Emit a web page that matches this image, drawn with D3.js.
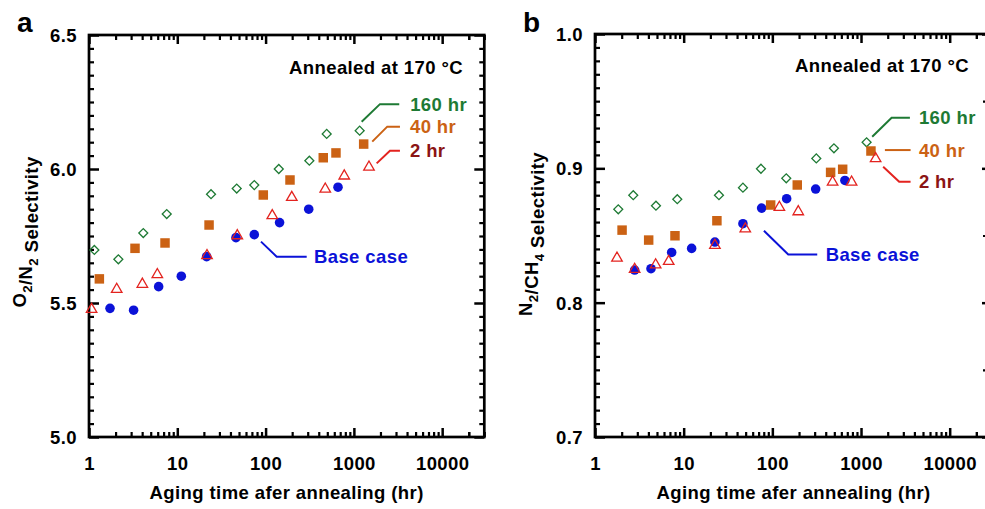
<!DOCTYPE html>
<html>
<head>
<meta charset="utf-8">
<script src="https://cdn.jsdelivr.net/npm/d3@7"></script>
<style>
  html, body { margin: 0; padding: 0; background: #fff; overflow: hidden; width: 985px; height: 509px; }
  svg { display: block; overflow: hidden; }
  text { font-family: 'Liberation Sans', Arial, Helvetica, sans-serif; font-weight: bold; letter-spacing: 0.4px; }
</style>
</head>
<body>
<svg id="chart" width="985" height="509" viewBox="0 0 985 509"></svg>
<script>
// ---------------- data ----------------
const xTickValues = [1, 10, 100, 1000, 10000];
const xTickLabels = ["1", "10", "100", "1000", "10000"];
const aYTicks = [5.0, 5.5, 6.0, 6.5];
const aYTickLabels = ["5.0", "5.5", "6.0", "6.5"];
const bYTicks = [0.7, 0.8, 0.9, 1.0];
const bYTickLabels = ["0.7", "0.8", "0.9", "1.0"];

// Panel a: O2/N2 selectivity  [aging time (hr), selectivity]
const aBase = [[1.73,5.480],[3.2,5.473],[6.15,5.561],[11.1,5.600],[21.5,5.673],[46.2,5.744],[74.5,5.755],[144,5.800],[308,5.850],[661,5.932]];
const a2hr  = [[1.07,5.476],[2.06,5.551],[4.02,5.570],[5.94,5.606],[21.7,5.677],[47.8,5.751],[119,5.826],[198,5.894],[474,5.925],[778,5.974],[1483,6.007]];
const a40hr = [[1.31,5.590],[3.32,5.704],[7.26,5.724],[22.9,5.791],[94.2,5.903],[189,5.959],[450,6.042],[627,6.060],[1291,6.093]];
const a160hr= [[1.15,5.698],[2.15,5.663],[4.12,5.761],[7.59,5.832],[24.1,5.906],[47.1,5.927],[74.5,5.940],[141,6.000],[313,6.031],[492,6.131],[1163,6.143]];

// Panel b: N2/CH4 selectivity
const bBase = [[2.80,0.8243],[4.28,0.8253],[7.32,0.8374],[12.3,0.8404],[22.5,0.8451],[46.6,0.8588],[75.7,0.8704],[145,0.8774],[308,0.8846],[658,0.8910]];
const b2hr  = [[1.77,0.8332],[2.80,0.8248],[4.83,0.8282],[6.78,0.8307],[22.5,0.8427],[49.5,0.8550],[120,0.8710],[196,0.8677],[478,0.8898],[783,0.8898],[1461,0.9072]];
const b40hr = [[2.02,0.8540],[4.03,0.8466],[7.98,0.8498],[23.7,0.8610],[95.7,0.8727],[191,0.8876],[454,0.8970],[621,0.8993],[1294,0.9129]];
const b160hr= [[1.83,0.8695],[2.70,0.8800],[4.87,0.8722],[8.47,0.8770],[25.0,0.8800],[46.6,0.8856],[74.4,0.8997],[143.5,0.8926],[313,0.9074],[495,0.9149],[1156,0.9194]];

const seriesNames = ["Base case", "160 hr", "40 hr", "2 hr"];

// ---------------- styles ----------------
const C = {
  blue: "#0B12D8",
  green: "#1E7A34",
  orange: "#CB6214",
  red: "#E3231F",
  darkred: "#8B1414",
  black: "#000"
};
const FS = 18.5;

const svgRoot = d3.select("#chart");
svgRoot.append("defs").append("clipPath").attr("id", "page")
  .append("rect").attr("x", 0).attr("y", 0).attr("width", 985).attr("height", 509);
const svg = svgRoot.append("g").attr("clip-path", "url(#page)");

function panel(cfg) {
  const g = svg.append("g");
  const x = d3.scaleLog().domain([1, 30000]).range(cfg.xRange);
  const y = d3.scaleLinear().domain(cfg.yDomain).range(cfg.yRange);
  const [x0, x1] = cfg.xRange;
  const [yb, yt] = cfg.yRange;

  // minor / major tick values
  const xMinor = [];
  for (let d = 1; d <= 10000; d *= 10) for (let k = 2; k <= 9; k++) if (d * k <= 30000) xMinor.push(d * k);
  xMinor.push(20000);
  const yMinor = d3.range(cfg.yDomain[0], cfg.yDomain[1] + cfg.minor / 2, cfg.minor)
    .map(v => +v.toFixed(4))
    .filter(v => !cfg.yTicks.some(t => Math.abs(t - v) < 1e-6));
  const yMid = cfg.mid ? yMinor.filter(v => Math.abs(Math.round(v / cfg.mid) * cfg.mid - v) < 1e-6) : [];
  const ySmall = yMinor.filter(v => !yMid.includes(v));

  const style = (sel, w) => {
    sel.select(".domain").remove();
    sel.selectAll(".tick line").attr("stroke", "#000").attr("stroke-width", w);
  };

  // bottom
  g.append("g").attr("transform", `translate(0,${yb})`)
    .call(d3.axisBottom(x).tickValues(xMinor).tickSize(-5).tickFormat(""))
    .call(s => style(s, 2.2));
  const bx = g.append("g").attr("transform", `translate(0,${yb})`)
    .call(d3.axisBottom(x).tickValues(xTickValues).tickSize(-9).tickFormat((d, i) => xTickLabels[i]))
    .call(s => style(s, 2.5));
  bx.selectAll(".tick text").attr("y", 33).attr("dy", 0).attr("font-size", FS)
    .attr("fill", "#000").attr("font-family", null);
  // top
  g.append("g").attr("transform", `translate(0,${yt})`)
    .call(d3.axisTop(x).tickValues(xMinor).tickSize(-5).tickFormat(""))
    .call(s => style(s, 2.2));
  g.append("g").attr("transform", `translate(0,${yt})`)
    .call(d3.axisTop(x).tickValues(xTickValues).tickSize(-9).tickFormat(""))
    .call(s => style(s, 2.5));
  // left
  g.append("g").attr("transform", `translate(${x0},0)`)
    .call(d3.axisLeft(y).tickValues(ySmall).tickSize(-5).tickFormat(""))
    .call(s => style(s, 2.2));
  if (yMid.length) g.append("g").attr("transform", `translate(${x0},0)`)
    .call(d3.axisLeft(y).tickValues(yMid).tickSize(-5).tickFormat(""))
    .call(s => style(s, 2.2));
  const ly = g.append("g").attr("transform", `translate(${x0},0)`)
    .call(d3.axisLeft(y).tickValues(cfg.yTicks).tickSize(-10).tickPadding(12).tickFormat((d, i) => cfg.yTickLabels[i]))
    .call(s => style(s, 2.5));
  ly.selectAll(".tick text").attr("font-size", FS).attr("fill", "#000").attr("font-family", null).attr("dy", "0.35em");
  // right
  g.append("g").attr("transform", `translate(${x1},0)`)
    .call(d3.axisRight(y).tickValues(ySmall).tickSize(-5).tickFormat(""))
    .call(s => style(s, 2.2));
  if (yMid.length) g.append("g").attr("transform", `translate(${x1},0)`)
    .call(d3.axisRight(y).tickValues(yMid).tickSize(-9).tickFormat(""))
    .call(s => style(s, 2.2));
  g.append("g").attr("transform", `translate(${x1},0)`)
    .call(d3.axisRight(y).tickValues(cfg.yTicks).tickSize(-10).tickFormat(""))
    .call(s => style(s, 2.5));

  // frame
  g.append("rect").attr("x", x0).attr("y", yt).attr("width", x1 - x0).attr("height", yb - yt)
    .attr("fill", "none").attr("stroke", "#000").attr("stroke-width", 2.7);

  // markers
  const sym = (type, size) => d3.symbol().type(type).size(size)();
  const draw = (data, shape, attrs, rot) => {
    g.append("g").selectAll("path").data(data).join("path")
      .attr("d", shape)
      .attr("transform", d => `translate(${x(d[0])},${y(d[1])})` + (rot ? ` rotate(${rot})` : ""))
      .each(function () { const p = d3.select(this); for (const k in attrs) p.attr(k, attrs[k]); });
  };
  draw(cfg.base, sym(d3.symbolCircle, 72), { fill: C.blue });
  draw(cfg.h160, sym(d3.symbolSquare, 40), { fill: "none", stroke: C.green, "stroke-width": 1.3 }, 45);
  draw(cfg.h40, sym(d3.symbolSquare, 90), { fill: C.orange });
  draw(cfg.h2, sym(d3.symbolTriangle, 48), { fill: "none", stroke: C.red, "stroke-width": 1.3 });

  // annotations: start in data coords, offsets in px
  cfg.notes.forEach(n => {
    const sx = x(n.at[0]), sy = y(n.at[1]);
    const pts = [[sx, sy], [sx + n.elbow[0], sy + n.elbow[1]], [sx + n.end, sy + n.elbow[1]]];
    g.append("path").attr("d", d3.line()(pts)).attr("fill", "none")
      .attr("stroke", n.line).attr("stroke-width", 2);
    g.append("text").attr("x", sx + n.text).attr("y", sy + n.elbow[1]).attr("dy", "0.36em")
      .attr("font-size", FS).attr("fill", n.color).text(n.label);
  });

  // "Annealed at" label
  g.append("text").attr("x", cfg.annX).attr("y", y(cfg.annY)).attr("dy", "0.36em")
    .attr("text-anchor", "end").attr("font-size", FS).attr("fill", "#000").text("Annealed at 170 °C");

  // x title
  g.append("text").attr("x", (x0 + x1) / 2).attr("y", 499).attr("text-anchor", "middle")
    .attr("font-size", FS).text("Aging time afer annealing (hr)");

  // y title with subscripts
  const yt2 = g.append("text").attr("transform", `translate(${cfg.yTitleX},${cfg.yTitleY}) rotate(-90)`)
    .attr("text-anchor", "middle").attr("font-size", FS);
  cfg.yTitle.forEach(p => {
    if (p.sub) {
      yt2.append("tspan").attr("font-size", FS * 0.72).attr("dy", "0.45em").text(p.t);
      yt2.append("tspan").attr("dy", `-${0.45 * 0.72}em`).text("");
    } else yt2.append("tspan").text(p.t);
  });

  // panel letter
  g.append("text").attr("x", cfg.letterX).attr("y", 32).attr("font-size", 28).style("letter-spacing", "0px").text(cfg.letter);
}

panel({
  xRange: [89, 484.3], yDomain: [5.0, 6.5], yRange: [437, 35], minor: 0.05, mid: null,
  yTicks: aYTicks, yTickLabels: aYTickLabels,
  base: aBase, h2: a2hr, h40: a40hr, h160: a160hr,
  annX: 463, annY: 6.38,
  yTitleX: 25.5, yTitleY: 232,
  yTitle: [{t: "O"}, {t: "2", sub: true}, {t: "/N"}, {t: "2", sub: true}, {t: " Selectivity"}],
  letter: "a", letterX: 17,
  notes: [
    {at: [1225, 6.176], elbow: [18.3, -17.7], end: 37.6, text: 48.5, line: C.green, color: C.green, label: seriesNames[1]},
    {at: [1615, 6.102], elbow: [15, -15], end: 27.7, text: 37.7, line: C.orange, color: C.orange, label: seriesNames[2]},
    {at: [1811, 6.021], elbow: [13.3, -12.6], end: 23.3, text: 33.3, line: C.red, color: C.darkred, label: seriesNames[3]},
    {at: [88.7, 5.729], elbow: [15.7, 15], end: 45.7, text: 53, line: C.blue, color: C.blue, label: seriesNames[0]}
  ]
});

panel({
  xRange: [595, 992], yDomain: [0.7, 1.0], yRange: [437, 34], minor: 0.01, mid: 0.05,
  yTicks: bYTicks, yTickLabels: bYTickLabels,
  base: bBase, h2: b2hr, h40: b40hr, h160: b160hr,
  annX: 969, annY: 0.9765,
  yTitleX: 532, yTitleY: 234,
  yTitle: [{t: "N"}, {t: "2", sub: true}, {t: "/CH"}, {t: "4", sub: true}, {t: " Selectivity"}],
  letter: "b", letterX: 523,
  notes: [
    {at: [1337, 0.9235], elbow: [19.4, -19], end: 37.7, text: 46.7, line: C.green, color: C.green, label: seriesNames[1]},
    {at: [1859, 0.9136], elbow: [0, 0], end: 25.7, text: 34, line: C.orange, color: C.orange, label: seriesNames[2]},
    {at: [1778, 0.9012], elbow: [16, 15], end: 27.4, text: 35.7, line: C.red, color: C.darkred, label: seriesNames[3]},
    {at: [80.4, 0.8535], elbow: [24.3, 23.6], end: 53.3, text: 61.7, line: C.blue, color: C.blue, label: seriesNames[0]}
  ]
});
</script>
</body>
</html>
